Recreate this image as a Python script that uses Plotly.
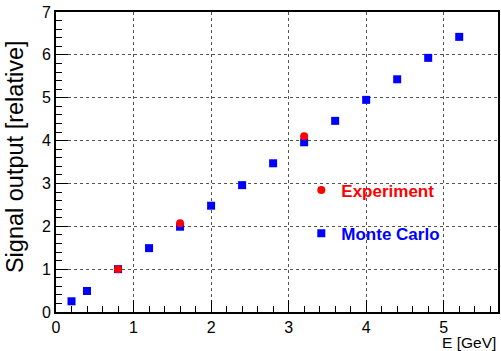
import plotly.graph_objects as go

# Data
mc_energy = [0.2, 0.4, 0.8, 1.2, 1.6, 2.0, 2.4, 2.8, 3.2, 3.6, 4.0, 4.4, 4.8, 5.2]
mc_signal = [0.25, 0.49, 1.0, 1.49, 1.99, 2.48, 2.96, 3.47, 3.96, 4.46, 4.95, 5.43, 5.93, 6.42]
exp_energy = [0.8, 1.6, 3.2]
exp_signal = [1.0, 2.07, 4.10]

x_title = "E [GeV]"
y_title = "Signal output [relative]"
x_ticks = [0, 1, 2, 3, 4, 5]
y_ticks = [0, 1, 2, 3, 4, 5, 6, 7]

FONT = "Liberation Sans, Arial, Helvetica, sans-serif"

fig = go.Figure()
fig.add_trace(go.Scatter(
    x=mc_energy, y=mc_signal, mode="markers",
    name="<b><span style='color:#0000ff'>Monte Carlo</span></b>",
    legendgroup="mc", legendrank=2,
    marker=dict(symbol="square", size=8, color="#0000ff", line=dict(width=0)),
))
fig.add_trace(go.Scatter(
    x=exp_energy, y=exp_signal, mode="markers",
    name="<b><span style='color:#ff0000'>Experiment</span></b>",
    legendgroup="exp", legendrank=1,
    marker=dict(symbol="circle", size=8, color="#ff0000", line=dict(width=0)),
))

axis_common = dict(
    showline=True, linecolor="black", linewidth=2, mirror=True,
    ticks="inside", ticklen=12, tickwidth=1, tickcolor="black",
    showgrid=True, gridcolor="#555555", gridwidth=1, griddash="dot",
    zeroline=False,
    tickfont=dict(family=FONT, size=16, color="black"),
    minor=dict(ticks="inside", ticklen=6, tickwidth=1, tickcolor="black",
               dtick=0.2, showgrid=False),
)

fig.update_xaxes(range=[0, 5.7], tickvals=x_ticks, **axis_common)
fig.update_yaxes(range=[0, 7], tickvals=y_ticks, **axis_common)

fig.update_layout(
    width=501, height=351,
    margin=dict(l=56, r=1, t=12, b=39),
    paper_bgcolor="white", plot_bgcolor="white",
    font=dict(family=FONT, size=17, color="black"),
    showlegend=True,
    legend=dict(
        x=0.555, y=0.465, xanchor="left", yanchor="top",
        bgcolor="rgba(0,0,0,0)", borderwidth=0,
        traceorder="grouped", tracegroupgap=18,
        font=dict(family=FONT, size=17),
    ),
    annotations=[
        dict(text=y_title, xref="paper", yref="paper", x=-0.094, y=0.518,
             xanchor="center", yanchor="middle", textangle=-90, showarrow=False,
             font=dict(family=FONT, size=23.5, color="black")),
        dict(text=x_title, xref="paper", yref="paper", x=1.0, y=-0.1,
             xanchor="right", yanchor="middle", showarrow=False,
             font=dict(family=FONT, size=15.5, color="black")),
    ],
)

fig.write_html("out.html")
